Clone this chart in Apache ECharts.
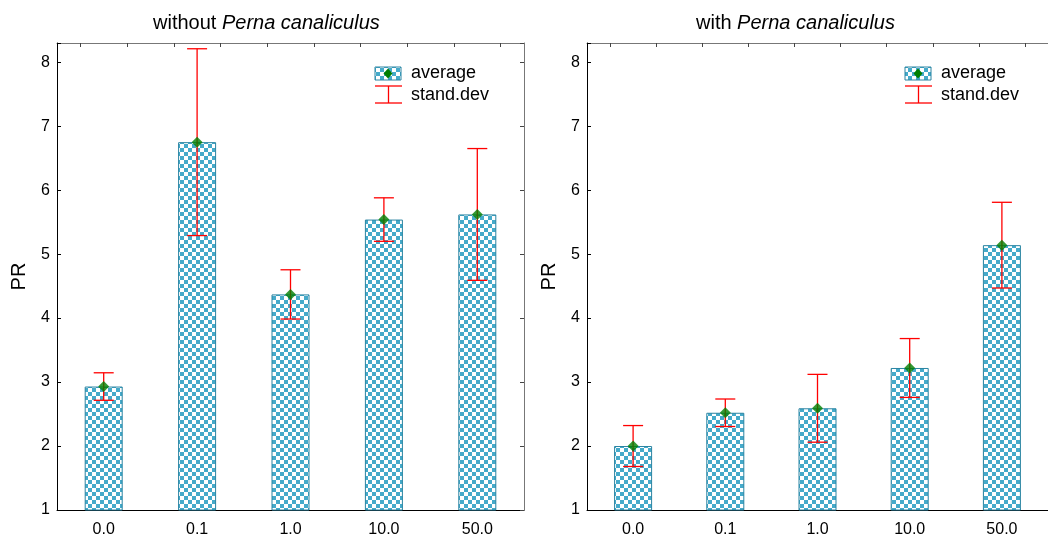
<!DOCTYPE html>
<html>
<head>
<meta charset="utf-8">
<script src="https://cdn.jsdelivr.net/npm/echarts@6/dist/echarts.min.js"></script>
<style>
  html, body { margin: 0; padding: 0; background: #fff; }
  #chart { width: 1048px; height: 538px; }
</style>
</head>
<body>
<div id="chart"></div>
<script>
// categories and values
const doses = ['0.0', '0.1', '1.0', '10.0', '50.0'];
const meanWithout = [2.93, 6.75, 4.37, 5.54, 5.62];
const sdWithout = [0.215, 1.46, 0.385, 0.34, 1.03];
const meanWith = [2.0, 2.52, 2.59, 3.22, 5.14];
const sdWith = [0.32, 0.215, 0.53, 0.46, 0.67];
const yTicks = [1, 2, 3, 4, 5, 6, 7, 8];

const font = '"Liberation Sans", Arial, sans-serif';

//-- checkered fill
function checker() {
    let c = document.createElement('canvas');
    c.width = 8; c.height = 8;
    let ctx = c.getContext('2d');
    ctx.fillStyle = '#ffffff';
    ctx.fillRect(0, 0, 8, 8);
    ctx.fillStyle = '#45aaca';
    ctx.fillRect(0, 0, 4, 4);
    ctx.fillRect(4, 4, 4, 4);
    return c;
}
const pattern = { image: checker(), repeat: 'repeat' };

// the right panel's frame runs off the edge of the picture
const panels = [
    { left: 57, width: 467, rightFrame: true, mean: meanWithout, sd: sdWithout },
    { left: 587, width: 466, rightFrame: false, mean: meanWith, sd: sdWith }
];

let grids = [], xAxes = [], yAxes = [], series = [];

panels.forEach(function(p, i) {
    grids.push({ left: p.left, top: 43, width: p.width, height: 469 });
    //-- bottom axis
    xAxes.push({
        type: 'category', gridIndex: i, data: doses, position: 'bottom',
        axisLine: { lineStyle: { color: '#000', width: 1 } },
        axisTick: { inside: true, alignWithLabel: true, length: 4, lineStyle: { color: '#000' } },
        axisLabel: { color: '#000', fontFamily: font, fontSize: 16, margin: 12 }
    });
    //-- top frame
    xAxes.push({
        type: 'category', gridIndex: i, position: 'top',
        data: ['a', 'b', 'c', 'd', 'e', 'f', 'g', 'h', 'i', 'j'],
        axisLine: { lineStyle: { color: '#777', width: 1 } },
        axisTick: { show: true, inside: true, alignWithLabel: true, interval: 0, length: 4, lineStyle: { color: '#444' } },
        axisLabel: { show: false, interval: 0 }
    });
    yAxes.push({
        type: 'value', gridIndex: i, min: 1, max: 8.3, interval: 1,
        name: 'PR', nameLocation: 'middle', nameGap: 28,
        nameTextStyle: { color: '#000', fontFamily: font, fontSize: 20 },
        axisLine: { show: true, lineStyle: { color: '#000', width: 1 } },
        axisTick: { show: true, inside: true, length: 4, lineStyle: { color: '#000' } },
        axisLabel: {
            color: '#000', fontFamily: font, fontSize: 16, margin: 7,
            formatter: function(v) { return yTicks.indexOf(v) >= 0 ? String(v) : ''; }
        },
        splitLine: { show: false }
    });
    yAxes.push({
        type: 'value', gridIndex: i, min: 1, max: 8.3, interval: 1, position: 'right',
        axisLine: { show: p.rightFrame, lineStyle: { color: '#777', width: 1 } },
        axisTick: { show: p.rightFrame, inside: true, length: 4, lineStyle: { color: '#444' } },
        axisLabel: { show: false },
        splitLine: { show: false }
    });

    series.push({
        type: 'bar', name: 'average', xAxisIndex: i * 2, yAxisIndex: i * 2,
        data: p.mean, barWidth: 38, z: 2,
        itemStyle: { color: pattern, borderColor: '#2a84a2', borderWidth: 1 }
    });
    series.push({
        type: 'custom', name: 'stand.dev', xAxisIndex: i * 2, yAxisIndex: i * 2, z: 3,
        data: p.mean.map(function(m, k) { return [k, m - p.sd[k], m + p.sd[k]]; }),
        renderItem: function(params, api) {
            let lo = api.coord([api.value(0), api.value(1)]);
            let hi = api.coord([api.value(0), api.value(2)]);
            let hw = 10;
            let st = { stroke: '#ff0000', lineWidth: 1.3 };
            return {
                type: 'group',
                children: [
                    { type: 'line', shape: { x1: lo[0], y1: lo[1], x2: hi[0], y2: hi[1] }, style: st },
                    { type: 'line', shape: { x1: hi[0] - hw, y1: hi[1], x2: hi[0] + hw, y2: hi[1] }, style: st },
                    { type: 'line', shape: { x1: lo[0] - hw, y1: lo[1], x2: lo[0] + hw, y2: lo[1] }, style: st }
                ]
            };
        }
    });
    series.push({
        type: 'scatter', xAxisIndex: i * 2, yAxisIndex: i * 2, z: 4,
        data: p.mean, symbol: 'diamond', symbolSize: 11,
        itemStyle: { color: '#007f00' }
    });
});

//-- legend drawn by hand (one per panel)
function legendAt(x) {
    let st = { stroke: '#ff0000', lineWidth: 1.3 };
    return [
        { type: 'rect', shape: { x: x, y: 67, width: 26, height: 13 },
          style: { fill: pattern, stroke: '#2a84a2', lineWidth: 1 } },
        { type: 'polygon', shape: { points: [[x + 13, 68.5], [x + 17.5, 73.5], [x + 13, 78.5], [x + 8.5, 73.5]] },
          style: { fill: '#007f00' } },
        { type: 'text', x: x + 36, y: 73.5,
          style: { text: 'average', fill: '#000', font: '18px ' + font, textVerticalAlign: 'middle' } },
        { type: 'line', shape: { x1: x, y1: 86, x2: x + 27, y2: 86 }, style: st },
        { type: 'line', shape: { x1: x + 13.5, y1: 86, x2: x + 13.5, y2: 103 }, style: st },
        { type: 'line', shape: { x1: x, y1: 103, x2: x + 27, y2: 103 }, style: st },
        { type: 'text', x: x + 36, y: 95,
          style: { text: 'stand.dev', fill: '#000', font: '18px ' + font, textVerticalAlign: 'middle' } }
    ];
}

const titleRich = {
    n: { fontFamily: font, fontSize: 20, color: '#000', fontWeight: 'normal' },
    i: { fontFamily: font, fontSize: 20, color: '#000', fontWeight: 'normal', fontStyle: 'italic' }
};

let myChart = echarts.init(document.getElementById('chart'), null, { renderer: 'canvas' });
myChart.setOption({
    animation: false,
    title: [
        { text: '{n|without }{i|Perna canaliculus}', left: 148, top: 8, textStyle: { fontWeight: 'normal', rich: titleRich } },
        { text: '{n|with }{i|Perna canaliculus}', left: 691, top: 8, textStyle: { fontWeight: 'normal', rich: titleRich } }
    ],
    grid: grids,
    xAxis: xAxes,
    yAxis: yAxes,
    series: series,
    graphic: legendAt(375).concat(legendAt(905))
});
</script>
</body>
</html>
